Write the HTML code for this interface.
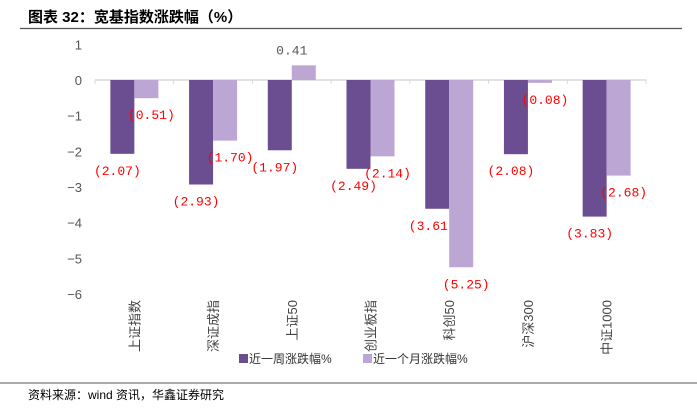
<!DOCTYPE html>
<html><head><meta charset="utf-8"><style>
body{margin:0;background:#fff;width:697px;height:415px;overflow:hidden;font-family:"Liberation Sans","Noto Sans CJK SC",sans-serif}
svg text{font-family:"Liberation Sans","Noto Sans CJK SC",sans-serif}
svg text.val{font-family:"Liberation Mono","Noto Sans CJK SC",monospace}
</style></head><body>
<svg width="697" height="415">
<text x="28" y="22" font-size="15" font-weight="bold" fill="#000">图表 32：宽基指数涨跌幅（%）</text>
<line x1="20" y1="28.5" x2="682" y2="28.5" stroke="#555" stroke-width="1.2"/>
<g id="plot"></g>
<line x1="0" y1="383" x2="697" y2="383" stroke="#777" stroke-width="1.2"/>
<text x="28" y="399" font-size="12" fill="#000">资料来源：wind 资讯，华鑫证券研究</text>
<g>
<rect x="239" y="354" width="9" height="9" fill="#6B4E91"/>
<text x="249" y="363" font-size="12" fill="#333">近一周涨跌幅%</text>
<rect x="363" y="354" width="9" height="9" fill="#BCA6D4"/>
<text x="373" y="363" font-size="12" fill="#333">近一个月涨跌幅%</text>
</g>
</svg>
<script>
const categories=["上证指数","深证成指","上证50","创业板指","科创50","沪深300","中证1000"];
const weekValues=[-2.07,-2.93,-1.97,-2.49,-3.61,-2.08,-3.83];
const monthValues=[-0.51,-1.70,0.41,-2.14,-5.25,-0.08,-2.68];
const yTicks=[1,0,-1,-2,-3,-4,-5,-6];
const NS="http://www.w3.org/2000/svg";
const g=document.getElementById('plot');
const L=95,R=646,Y0=80,U=35.67;
const step=(R-L)/categories.length;
function y(v){return Y0-v*U;}
function xc(i){return L+step*(i+0.5);}
function mk(t,a){const e=document.createElementNS(NS,t);for(const k in a)e.setAttribute(k,a[k]);g.appendChild(e);return e;}
function fmt(v){return v<0?'('+Math.abs(v).toFixed(2).replace('.', '.')+')':v.toFixed(2);}
yTicks.forEach(t=>{const e=mk('text',{x:82,y:y(t)+5,'font-size':13,fill:'#555','text-anchor':'end'});e.textContent=t===0?'0':(t<0?'−'+Math.abs(t):t);

});
const ax=mk('line',{x1:L,y1:Y0,x2:R,y2:Y0,stroke:'#d9d9d9','stroke-width':1.5});


for(let i=0;i<=categories.length;i++){const tk=mk('line',{x1:L+step*i,y1:Y0,x2:L+step*i,y2:Y0+4,stroke:'#d9d9d9'});

}
categories.forEach((c,i)=>{
 const cx=xc(i);
 [[weekValues[i],'#6B4E91',cx-24,-17,'week'],[monthValues[i],'#BCA6D4',cx,17,'month']].forEach(([v,col,x,dx,s])=>{
  const top=Math.min(y(v),Y0),h=Math.abs(y(v)-Y0);
  const b=mk('rect',{x:x,y:top,width:24,height:Math.max(h,1),fill:col});
  
  
  const ly=v<0?y(v)+21:y(v)-11;
  const t=mk('text',{x:cx+(v<0?dx:0),y:ly,'font-size':13,fill:v<0?'#FF0000':'#555','text-anchor':'middle','class':'val'});
  t.textContent=fmt(v);
  
  
 });
 const ct=mk('text',{transform:`translate(${cx+5},300) rotate(-90)`,'font-size':13,fill:'#444','text-anchor':'end'});
 ct.textContent=c;
 
 
});
</script>
</body></html>
